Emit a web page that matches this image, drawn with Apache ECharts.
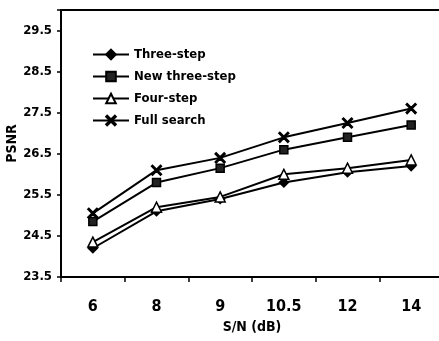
<!DOCTYPE html>
<html>
<head>
  <meta charset="UTF-8">
  <title>PSNR vs S/N</title>
  <style>
    * { margin: 0; padding: 0; }
    body { background: #fff; }
    #chart { width: 439px; height: 341px; }
  </style>
  <script src="https://cdn.jsdelivr.net/npm/echarts@6/dist/echarts.min.js"></script>
</head>
<body>
  <div id="chart"></div>
  <script>
    // 数据
    const snLabels = ['6', '8', '9', '10.5', '12', '14'];
    const threeStep = [24.2, 25.1, 25.4, 25.8, 26.05, 26.2];
    const fourStep = [24.35, 25.2, 25.45, 26.0, 26.15, 26.35];
    const newThreeStep = [24.85, 25.8, 26.15, 26.6, 26.9, 27.2];
    const fullSearch = [25.05, 26.1, 26.4, 26.9, 27.25, 27.6];

    const FONT = "'Liberation Sans Narrow', 'DejaVu Sans Condensed', sans-serif";
    const crossPath = 'path://M0,1L1,0L5,4L9,0L10,1L6,5L10,9L9,10L5,6L1,10L0,9L4,5Z';

    function line(name, data, symbol, size, fill) {
      return {
        name, type: 'line', data, symbol, symbolSize: size,
        lineStyle: { color: '#000', width: 2 },
        itemStyle: { color: fill, borderColor: '#000', borderWidth: 1.5 },
        z: 3
      };
    }

    const chart = echarts.init(document.getElementById('chart'));
    chart.setOption({
      animation: false,
      grid: {
        left: 61, right: -4, top: 10, bottom: 64, containLabel: false, outerBoundsMode: 'none',
        show: true, borderColor: '#000', borderWidth: 2
      },
      legend: {
        orient: 'vertical', left: 92, top: 48, itemGap: 9, padding: 0,
        itemWidth: 36, itemHeight: 12,
        textStyle: { fontFamily: FONT, fontWeight: 'bold', fontSize: 13, color: '#000' },
        data: ['Three-step', 'New three-step', 'Four-step', 'Full search']
      },
      xAxis: {
        type: 'category', data: snLabels, boundaryGap: true,
        name: 'S/N (dB)', nameLocation: 'middle', nameGap: 43, nameMoveOverlap: false,
        nameTextStyle: { fontFamily: FONT, fontWeight: 'bold', fontSize: 14, color: '#000' },
        axisLine: { lineStyle: { color: '#000', width: 2 } },
        axisTick: { show: true, length: 5, lineStyle: { color: '#000', width: 1.5 } },
        axisLabel: { margin: 22, fontFamily: FONT, fontWeight: 'bold', fontSize: 16, color: '#000' }
      },
      yAxis: {
        type: 'value', min: 23.5, max: 30, interval: 1,
        name: 'PSNR', nameLocation: 'middle', nameGap: 42, nameMoveOverlap: false,
        nameTextStyle: { fontFamily: FONT, fontWeight: 'bold', fontSize: 14, color: '#000' },
        splitLine: { show: false },
        axisLine: { show: true, lineStyle: { color: '#000', width: 2 } },
        axisTick: { show: true, length: 4, lineStyle: { color: '#000', width: 1.5 } },
        axisLabel: {
          margin: 9, fontFamily: FONT, fontWeight: 'bold', fontSize: 13, color: '#000',
          formatter: v => (v >= 30 ? '' : v.toFixed(1))
        }
      },
      series: [
        line('Three-step', threeStep, 'diamond', 9, '#000'),
        line('New three-step', newThreeStep, 'rect', 8, '#222'),
        line('Four-step', fourStep, 'triangle', 10, '#fff'),
        line('Full search', fullSearch, crossPath, 10, '#000')
      ]
    });
  </script>
</body>
</html>
